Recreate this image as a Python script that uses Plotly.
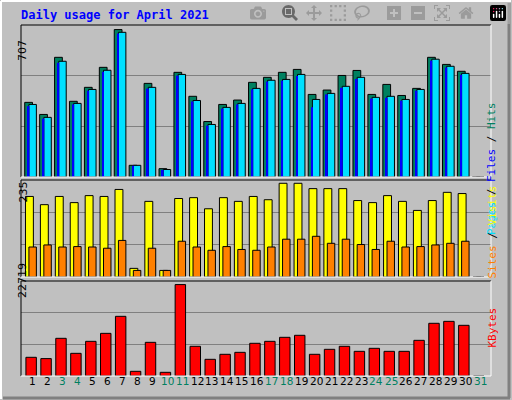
import plotly.graph_objects as go

days = list(range(1, 32))
hits = [358,300,574,363,430,526,707,56,449,40,502,387,266,348,369,454,478,502,516,396,417,487,511,396,444,391,425,574,540,507,0]
files = [348,286,555,353,420,512,694,56,430,36,492,367,252,334,353,425,464,468,492,372,401,435,478,382,387,372,420,565,531,497,0]
pages = [340,280,548,348,414,505,688,54,424,34,486,362,246,328,348,420,458,462,485,334,396,428,470,376,380,366,414,558,525,490,0]
visits = [196,176,196,181,198,196,213,21,184,16,191,193,166,193,184,196,188,228,228,215,215,215,186,181,198,184,162,186,206,203,0]
sites = [73,78,73,74,73,70,89,16,70,16,87,73,65,74,67,65,73,92,92,99,82,92,79,67,87,73,74,78,82,87,0]
kbytes = [4470,4160,9010,5420,8290,10200,14270,1120,8050,880,21860,7100,3990,5190,5660,7820,8290,9250,9730,5190,6380,7100,5900,6620,5900,5900,8530,12600,13070,12120,0]
weekend = [3,4,10,11,17,18,24,25,31]
max_hits, max_visits, max_kb = 707, 235, 22719

L, R, T, B = 21, 21, 25, 24
W, H = 512, 400
def px(p): return (p - L) / (W - L - R)
def py(p): return (H - B - p) / (H - T - B)

fig = go.Figure()
bar = dict(marker_line_color="black", marker_line_width=1)
fig.add_bar(x=days, y=hits, offset=-0.55, width=0.52, marker_color="#008060", xaxis="x", yaxis="y", **bar)
fig.add_bar(x=days, y=files, offset=-0.27, width=0.5, marker_color="#00e0ff", xaxis="x", yaxis="y", **bar)
fig.add_bar(x=days, y=pages, offset=-0.36, width=0.12, marker_color="#0000ff", marker_line_width=0, xaxis="x", yaxis="y")
fig.add_bar(x=days, y=visits, offset=-0.5, width=0.53, marker_color="#ffff00", xaxis="x", yaxis="y2", **bar)
fig.add_bar(x=days, y=sites, offset=-0.27, width=0.5, marker_color="#ff8000", xaxis="x", yaxis="y2", **bar)
fig.add_bar(x=days, y=kbytes, offset=-0.47, width=0.7, marker_color="#ff0000", xaxis="x", yaxis="y3", **bar)

font = "DejaVu Sans Mono"
def yax(dom, rmax):
    return dict(domain=dom, range=[0, rmax], tickvals=[rmax/3, 2*rmax/3], showticklabels=False,
                gridcolor="#808080", gridwidth=1, zeroline=False, showline=False, fixedrange=True)

fig.update_layout(
    width=W, height=H, margin=dict(l=L, r=R, t=T, b=B),
    paper_bgcolor="#c0c0c0", plot_bgcolor="#c0c0c0", barmode="overlay", showlegend=False,
    xaxis=dict(range=[0.2, 31.7], showticklabels=False, showgrid=False, zeroline=False, ticks=""),
    yaxis=yax([py(177), 1], 729),
    yaxis2=yax([py(277), py(180)], 236),
    yaxis3=yax([0, py(281)], 22719),
)

ann = []
ann.append(dict(x=px(19), y=py(15), xref="paper", yref="paper", text="<b>Daily usage for April 2021</b>",
                showarrow=False, xanchor="left", yanchor="middle", font=dict(family=font, size=12, color="#0000ff")))
for txt, yc in [(str(max_hits), 38), (str(max_visits), 192), (str(max_kb), 300)]:
    ann.append(dict(x=px(14), y=py(yc), xref="paper", yref="paper", text=txt, textangle=-90, showarrow=False,
                    font=dict(family="DejaVu Sans", size=11, color="black")))
ann.append(dict(x=px(500), y=py(100), xref="paper", yref="paper", textangle=-90, showarrow=False,
                text="<span style='color:#00e0ff'>Pages</span> / <span style='color:#0000ff'>Files</span> / <span style='color:#008060'>Hits</span>",
                font=dict(family=font, size=11, color="#000000")))
ann.append(dict(x=px(500), y=py(232), xref="paper", yref="paper", textangle=-90, showarrow=False,
                text="<span style='color:#ff8000'>Sites</span> / <span style='color:#ffff00'>Visits</span>",
                font=dict(family=font, size=11, color="#000000")))
ann.append(dict(x=px(500), y=py(350), xref="paper", yref="paper", textangle=-90, showarrow=False,
                text="KBytes", font=dict(family=font, size=11, color="#ff0000")))
for d in days:
    ann.append(dict(x=d, y=py(389), xref="x", yref="paper", text=str(d), showarrow=False,
                    font=dict(family="DejaVu Sans", size=10.5, color="#008060" if d in weekend else "black")))
fig.update_layout(annotations=ann)

shapes = []
def ln(x0, y0, x1, y1, c, w=1):
    shapes.append(dict(type="line", xref="paper", yref="paper", x0=px(x0), y0=py(y0), x1=px(x1), y1=py(y1),
                       line=dict(color=c, width=w), layer="above"))
ln(1, 1, 511, 1, "white", 2); ln(1, 1, 1, 399, "white", 2)
ln(509, 3, 509, 398, "#808080", 3); ln(3, 398, 510, 398, "#808080", 3)
for top, bot in [(25, 177), (180, 277), (281, 376)]:
    ln(21, top, 491, top, "black"); ln(21, top, 21, bot, "black")
    ln(491, top, 491, bot, "white"); ln(21, bot, 491, bot, "white")
fig.update_layout(shapes=shapes)

fig.write_html("out.html", post_script="document.body.style.margin='0';document.body.style.overflow='hidden';")
